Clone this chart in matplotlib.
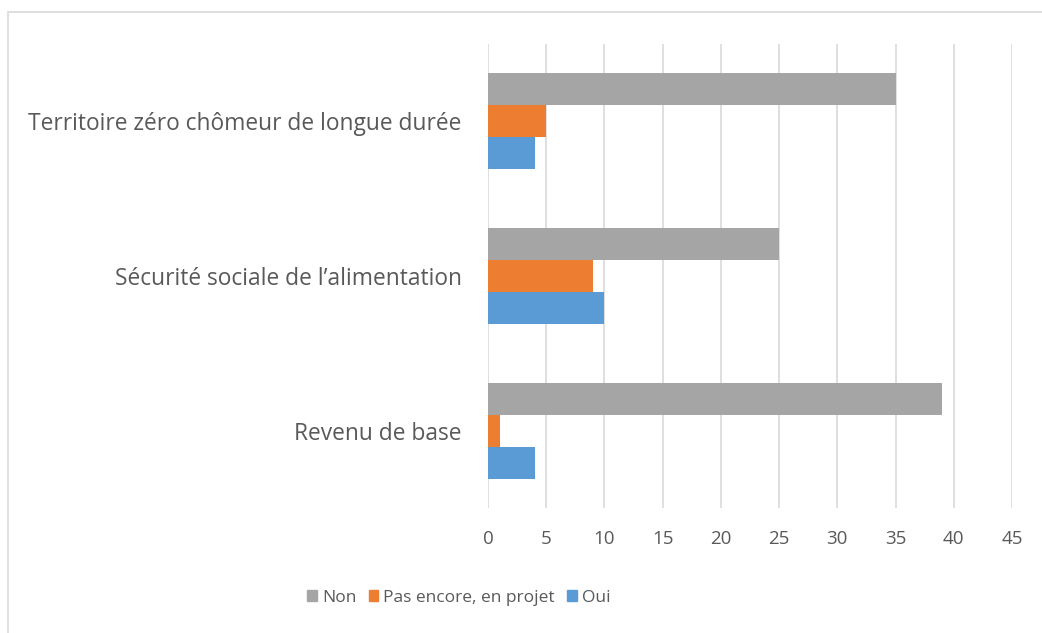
import matplotlib
matplotlib.use("Agg")
import matplotlib.pyplot as plt
from matplotlib.patches import Rectangle, Patch
import numpy as np

categories = ["Revenu de base", "Sécurité sociale de l\u2019alimentation", "Territoire zéro chômeur de longue durée"]
series_names = ["Non", "Pas encore, en projet", "Oui"]
non = [39, 25, 35]
pas_encore = [1, 9, 5]
oui = [4, 10, 4]
colors = {"Non": "#a5a5a5", "Pas encore, en projet": "#ed7d31", "Oui": "#5b9bd5"}
xticks = list(range(0, 50, 5))

plt.rcParams['font.family'] = ['Open Sans', 'DejaVu Sans']
text_color = "#595959"

fig = plt.figure(figsize=(10.42, 6.33), dpi=100)
fig.patches.append(Rectangle((8/1042, -0.1), 1.2, 1 - 12/633 + 0.1, transform=fig.transFigure,
                             fill=False, edgecolor="#d9d9d9", linewidth=1.2))
ax = fig.add_axes([488/1042, 1 - 508/633, 524/1042, 464/633])

y = np.arange(len(categories))
h = 0.207
vals = {"Non": non, "Pas encore, en projet": pas_encore, "Oui": oui}
offsets = {"Non": h, "Pas encore, en projet": 0, "Oui": -h}
for name in series_names:
    ax.barh(y + offsets[name], vals[name], height=h, color=colors[name], zorder=3)

ax.set_xlim(0, 45)
ax.set_ylim(-0.5, 2.5)
ax.set_xticks(xticks)
ax.set_xticklabels([str(t) for t in xticks], fontsize=13.5)
ax.set_yticks(y)
ax.set_yticklabels(categories, fontsize=16.4)
ax.grid(axis='x', color="#d9d9d9", linewidth=1.2, zorder=0)
for s in ax.spines.values():
    s.set_visible(False)
ax.tick_params(axis='both', length=0, colors=text_color)
ax.tick_params(axis='x', pad=16)
ax.tick_params(axis='y', pad=19)

handles = [Patch(color=colors[n]) for n in series_names]
fig.legend(handles, series_names, loc='center', bbox_to_anchor=(459/1042, 1 - 598/633), ncol=3,
           frameon=False, fontsize=12.5, handlelength=0.55, handleheight=0.6, handletextpad=0.3,
           columnspacing=0.7, labelcolor=text_color)

fig.savefig("out.png", dpi=100)
